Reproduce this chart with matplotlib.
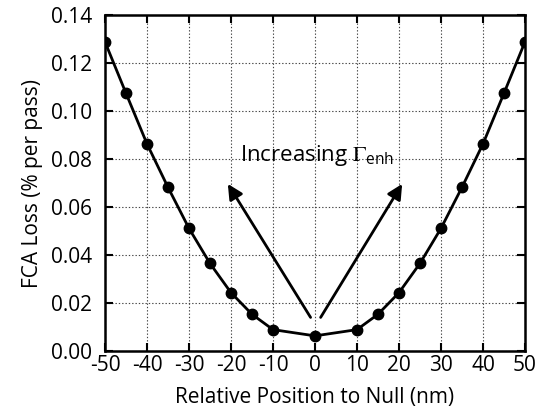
import matplotlib
matplotlib.use("Agg")
import matplotlib.pyplot as plt

positions = [-50, -45, -40, -35, -30, -25, -20, -15, -10, 0, 10, 15, 20, 25, 30, 35, 40, 45, 50]
fca_loss = [0.1288, 0.1074, 0.0863, 0.0682, 0.0511, 0.0365, 0.0243, 0.0153, 0.0089, 0.0063,
            0.0089, 0.0153, 0.0243, 0.0365, 0.0511, 0.0682, 0.0863, 0.1074, 0.1288]
x_ticks = [-50, -40, -30, -20, -10, 0, 10, 20, 30, 40, 50]
y_ticks = [0.00, 0.02, 0.04, 0.06, 0.08, 0.10, 0.12, 0.14]

plt.rcParams['font.family'] = ['Open Sans', 'DejaVu Sans']
plt.rcParams['mathtext.fontset'] = 'custom'
plt.rcParams['mathtext.rm'] = 'STIXGeneral'
plt.rcParams['mathtext.sf'] = 'Open Sans'

fig = plt.figure(figsize=(5.46, 4.17), dpi=100)
ax = fig.add_axes([0.1923, 0.1583, 0.7692, 0.8057])

ax.plot(positions, fca_loss, color='black', lw=2, marker='o', ms=7.5, zorder=3)

ax.set_xlim(-50, 50)
ax.set_ylim(0, 0.14)
ax.set_xticks(x_ticks)
ax.set_yticks(y_ticks)
ax.set_xticklabels([str(t) for t in x_ticks])
ax.set_yticklabels([f"{t:.2f}" for t in y_ticks])
ax.grid(True, color='#444444', linestyle=(0, (1.2, 1.8)), linewidth=0.8)
ax.tick_params(direction='in', length=6, width=1.5, top=True, right=True,
               labelsize=15, pad=3, colors='black')
ax.tick_params(axis='y', pad=9)
for s in ax.spines.values():
    s.set_linewidth(1.8)

ax.set_xlabel('Relative Position to Null (nm)', fontsize=15, labelpad=8)
ax.set_ylabel('FCA Loss (% per pass)', fontsize=15, labelpad=6)

arrow_style = dict(arrowstyle='-|>,head_length=0.9,head_width=0.45', color='black', lw=2)
ax.annotate('', xy=(-21.1, 0.0706), xytext=(-0.7, 0.013), arrowprops=arrow_style)
ax.annotate('', xy=(21.1, 0.0706), xytext=(1.0, 0.013), arrowprops=arrow_style)
ax.text(-17.8, 0.0815, r'Increasing $\mathrm{\Gamma}_{\mathsf{enh}}$', fontsize=16,
        ha='left', va='center')

fig.savefig('out.png', dpi=100, facecolor='white')
